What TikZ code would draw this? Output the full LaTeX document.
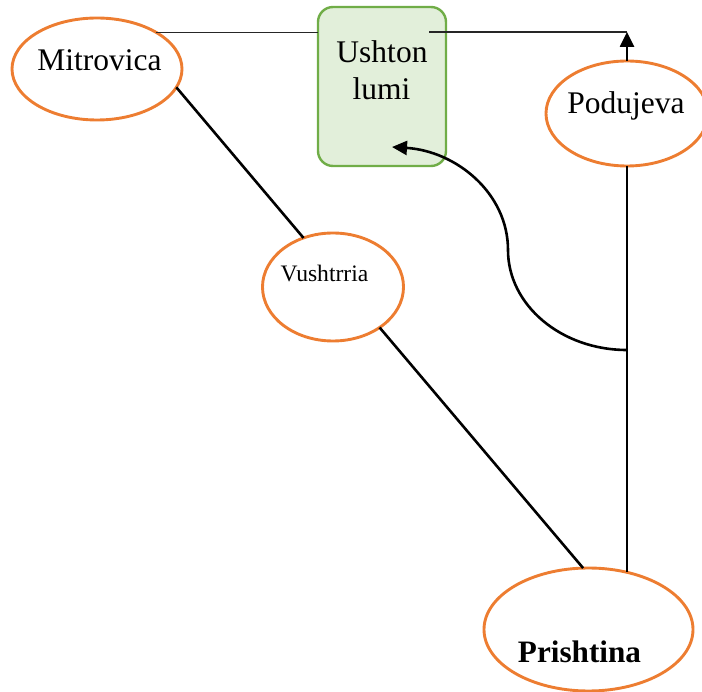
\documentclass[tikz,border=0pt]{standalone}
\usepackage{fontspec}
\setmainfont{Liberation Serif}
\usetikzlibrary{arrows.meta,shapes.geometric}
\definecolor{orng}{HTML}{ED7D31}
\definecolor{grnb}{HTML}{70AD47}
\definecolor{grnf}{HTML}{E2EFDA}
\begin{document}
\begin{tikzpicture}[x=1pt,y=-1pt,
  city/.style={ellipse,draw=orng,line width=2.9pt,inner sep=0pt,outer sep=0pt},
  lbl/.style={anchor=base,inner sep=0pt,font=\fontsize{31.5}{36}\selectfont},
  road/.style={line width=2.6pt,black},
  thinln/.style={line width=1.4pt,black!85},
  tipA/.style={-{Triangle[length=15pt,width=14pt]}}
  ]
\useasboundingbox (0,0) rectangle (702,692);
% nodes
\node[draw=grnb,fill=grnf,line width=2.4pt,rounded corners=15pt,minimum width=128pt,minimum height=159pt,inner sep=0pt,outer sep=0pt] (box) at (382,86.5) {};
\node[city,minimum width=170pt,minimum height=102pt] (mit) at (97,69) {};
\node[city,minimum width=141pt,minimum height=108pt] (vus) at (333,287) {};
\node[city,minimum width=162pt,minimum height=105pt] (pod) at (627,113.5) {};
\node[city,minimum width=209pt,minimum height=123pt] (pri) at (588.5,629.5) {};
% labels
\node[lbl] (mitT) at (99.5,71) {Mitrovica};
\node[lbl] (ushT) at (382,63) {Ushton};
\node[lbl] (lumT) at (381.5,100) {lumi};
\node[lbl] (podT) at (626,114) {Podujeva};
\node[lbl,font=\fontsize{23.6}{28}\selectfont] (vusT) at (324.5,282) {Vushtrria};
\node[lbl,font=\bfseries\fontsize{31.2}{36}\selectfont] (priT) at (579.5,662) {Prishtina};
% helper coordinates
\coordinate (ua) at (429,32);
\coordinate (tc) at (627,32);
\coordinate (j) at (627,350);
\coordinate (ut) at (392,147);
% connectors
\draw[thinln] (mit.32) -- (mit.32 -| box.west);
\draw[thinln] (ua) -- (tc);
\draw[road,tipA] (pod.north) -- (tc);
\draw[road] (mit.-13.5) -- (vus.121.5);
\draw[road] (vus.-41.7) -- (pri.95);
\draw[road] (pod.south) -- (pod.south |- pri.56);
\draw[road,tipA] (j) .. controls (561,350) and (508,305) .. (508,250)
  .. controls (508,193) and (456,151) .. (ut);
\end{tikzpicture}
\end{document}
